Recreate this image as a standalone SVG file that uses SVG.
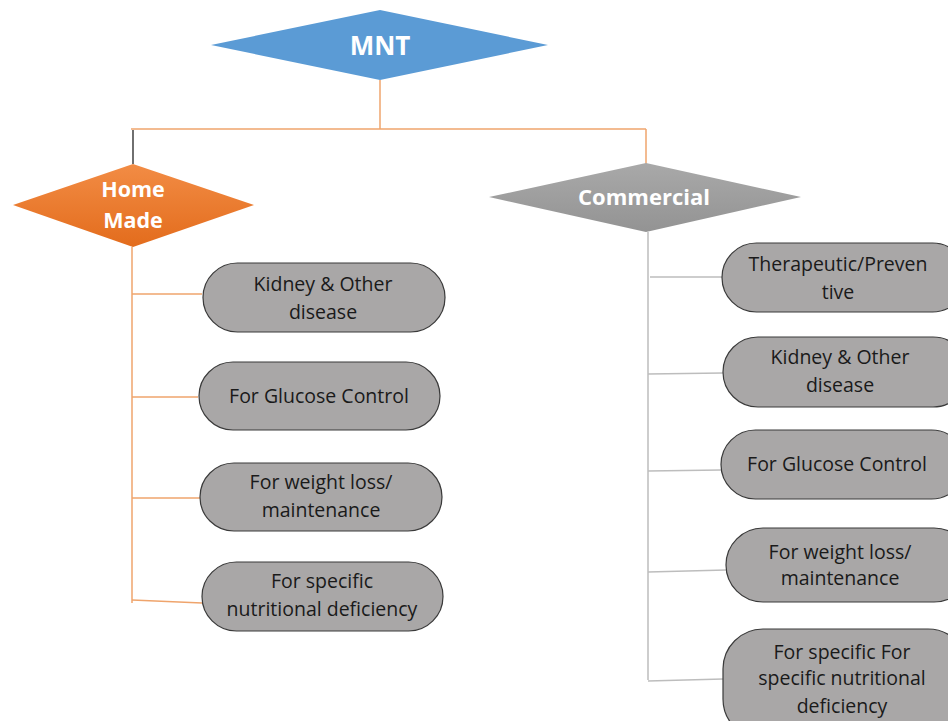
<svg xmlns="http://www.w3.org/2000/svg" width="948" height="721" viewBox="0 0 948 721">
<defs>
<linearGradient id="gOr" x1="0" y1="0" x2="0" y2="1"><stop offset="0" stop-color="#F28C45"/><stop offset="1" stop-color="#E36C1C"/></linearGradient>
<linearGradient id="gGr" x1="0" y1="0" x2="0" y2="1"><stop offset="0" stop-color="#A9A9A9"/><stop offset="1" stop-color="#939393"/></linearGradient>
<style>
.pill{fill:#A9A7A7;stroke:#3A3A3A;stroke-width:1.2}
.pt{font-family:"Open Sans","Liberation Sans",sans-serif;font-size:19.5px;fill:#1A1A1A;text-anchor:middle}
.dt{font-family:"Open Sans","Liberation Sans",sans-serif;font-weight:bold;fill:#FFFFFF;text-anchor:middle}
.lo{stroke:#EFA46C;stroke-width:1.5;fill:none}
.lg{stroke:#BDBDBD;stroke-width:1.5;fill:none}
</style>
</defs>
<rect width="948" height="721" fill="#FFFFFF"/>
<g id="connectors">
<line class="lo" x1="380" y1="80" x2="380" y2="129"/>
<line class="lo" x1="131" y1="129" x2="646" y2="129"/>
<line x1="133" y1="130" x2="133" y2="164" stroke="#222" stroke-width="1.3"/>
<line class="lo" x1="646" y1="129" x2="646" y2="164"/>
<line class="lo" x1="132" y1="247" x2="132" y2="603"/>
<line class="lo" x1="132" y1="294" x2="202" y2="294"/>
<line class="lo" x1="132" y1="397" x2="198" y2="397"/>
<line class="lo" x1="132" y1="498" x2="200" y2="498"/>
<line class="lo" x1="132" y1="600" x2="202" y2="603"/>
<line class="lg" x1="648" y1="232" x2="648" y2="680"/>
<line class="lg" x1="650" y1="277" x2="722" y2="277"/>
<line class="lg" x1="648" y1="374" x2="723" y2="373"/>
<line class="lg" x1="648" y1="471" x2="721" y2="470"/>
<line class="lg" x1="648" y1="572" x2="726" y2="570"/>
<line class="lg" x1="648" y1="681" x2="723" y2="679"/>
</g>
<g id="mnt">
<polygon points="211,45 380,10 548,45 380,80" fill="#5B9BD5"/>
<text class="dt" x="380" y="55" font-size="26">MNT</text>
</g>
<g id="homemade">
<polygon points="13,205 133,164 254,205 133,247" fill="url(#gOr)"/>
<text class="dt" x="133" y="197" font-size="21.5">Home</text>
<text class="dt" x="133" y="228" font-size="21.5">Made</text>
</g>
<g id="commercial">
<polygon points="489,197 646,163 801,197 646,232" fill="url(#gGr)"/>
<text class="dt" x="644" y="205" font-size="22">Commercial</text>
</g>
<g id="hm-kidney">
<rect class="pill" x="203" y="263" width="242" height="69" rx="34.5"/>
<text class="pt" x="323" y="291">Kidney &amp; Other</text>
<text class="pt" x="323" y="319">disease</text>
</g>
<g id="hm-glucose">
<rect class="pill" x="199" y="362" width="241" height="68" rx="34"/>
<text class="pt" x="319" y="403">For Glucose Control</text>
</g>
<g id="hm-weight">
<rect class="pill" x="200" y="463" width="242" height="68" rx="34"/>
<text class="pt" x="321" y="489">For weight loss/</text>
<text class="pt" x="321" y="517">maintenance</text>
</g>
<g id="hm-specific">
<rect class="pill" x="202" y="562" width="241" height="69" rx="34.5"/>
<text class="pt" x="322" y="588">For specific</text>
<text class="pt" x="322" y="616">nutritional deficiency</text>
</g>
<g id="c-therapeutic">
<rect class="pill" x="722" y="243" width="245" height="69" rx="34.5"/>
<text class="pt" x="838" y="271">Therapeutic/Preven</text>
<text class="pt" x="838" y="299">tive</text>
</g>
<g id="c-kidney">
<rect class="pill" x="723" y="337" width="245" height="70" rx="35"/>
<text class="pt" x="840" y="364">Kidney &amp; Other</text>
<text class="pt" x="840" y="392">disease</text>
</g>
<g id="c-glucose">
<rect class="pill" x="721" y="430" width="245" height="69" rx="34.5"/>
<text class="pt" x="837" y="471">For Glucose Control</text>
</g>
<g id="c-weight">
<rect class="pill" x="726" y="528" width="245" height="74" rx="37"/>
<text class="pt" x="840" y="559">For weight loss/</text>
<text class="pt" x="840" y="585">maintenance</text>
</g>
<g id="c-specific">
<rect class="pill" x="723" y="629" width="245" height="110" rx="40"/>
<text class="pt" x="842" y="659">For specific For</text>
<text class="pt" x="842" y="685">specific nutritional</text>
<text class="pt" x="842" y="713">deficiency</text>
</g>
</svg>
